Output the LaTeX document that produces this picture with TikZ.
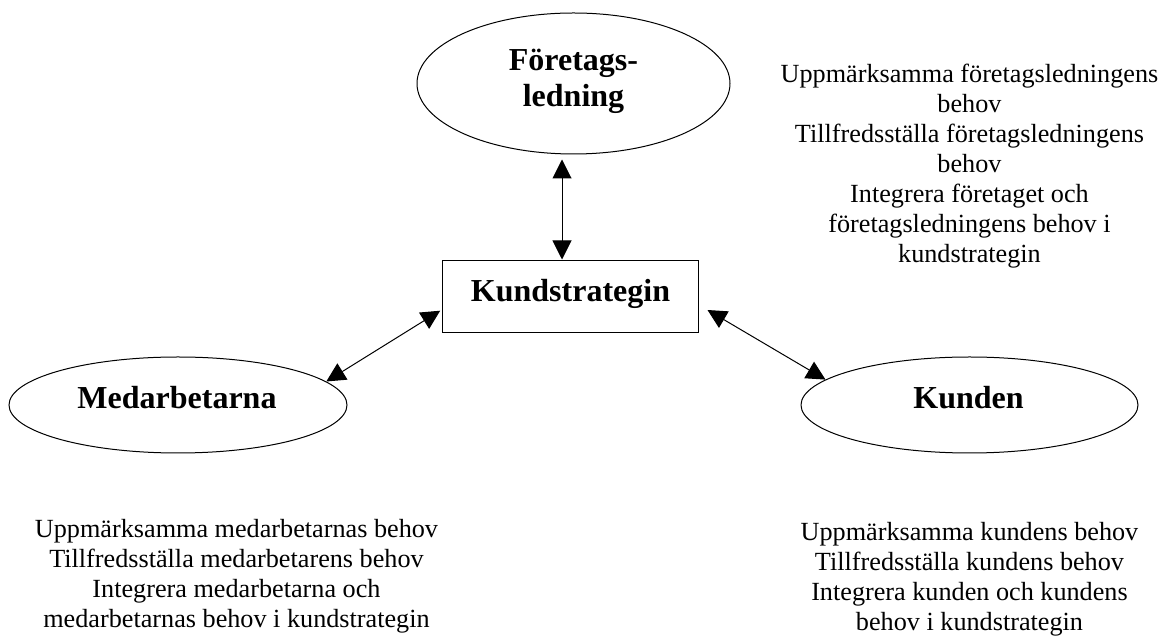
\documentclass[tikz,border=0pt]{standalone}
\usepackage{fontspec}
\setmainfont{Liberation Serif}
\usetikzlibrary{arrows.meta,shapes.geometric}
\begin{document}
\begin{tikzpicture}[x=1pt,y=1pt,
  oval/.style={draw,ellipse,line width=1pt,inner sep=0pt},
  stratbox/.style={draw,rectangle,line width=1pt,inner sep=0pt,minimum width=256pt,minimum height=72pt},
  heading/.style={font=\fontsize{32}{35.5}\selectfont\bfseries,inner sep=0pt,align=center},
  needs/.style={font=\fontsize{26.2}{30}\selectfont,inner sep=0pt,align=center},
  link/.style={line width=1pt,{Triangle[length=19pt,width=19pt]}-{Triangle[length=19pt,width=19pt]}}
]
\useasboundingbox (0,0) rectangle (1165,637);

% the four parties
\node[oval,minimum width=313pt,minimum height=141pt] (mgmt) at (573.5,553.5) {};
\node[heading,anchor=north] (mgmtlabel) at (573.5,588) {Företags-\\ledning};

\node[stratbox] (strat) at (570,340) {};
\node[heading,anchor=base] (stratlabel) at (570.5,335.3) {Kundstrategin};

\node[oval,minimum width=338pt,minimum height=96pt] (staff) at (178,232) {};
\node[heading,anchor=base] (stafflabel) at (177,228) {Medarbetarna};

\node[oval,minimum width=337pt,minimum height=96pt] (client) at (969.5,232) {};
\node[heading,anchor=base] (clientlabel) at (968.5,228) {Kunden};

% two-way links to the strategy
\draw[link] ([xshift=-11.5pt,yshift=-5pt]mgmt.south) -- ([xshift=-8pt,yshift=1pt]strat.north);
\draw[link] ([xshift=-1.3pt,yshift=-13.7pt]strat.west) -- (staff.9.8);
\draw[link] ([xshift=9pt,yshift=-13pt]strat.east) -- (client.170.2);

% needs of each party
\node[needs,anchor=north] (mgmtneeds) at (969.5,573) {Uppmärksamma företagsledningens\\behov\\Tillfredsställa företagsledningens\\behov\\Integrera företaget och\\företagsledningens behov i\\kundstrategin};
\node[needs,anchor=north] (staffneeds) at (236.5,118) {Uppmärksamma medarbetarnas behov\\Tillfredsställa medarbetarens behov\\Integrera medarbetarna och\\medarbetarnas behov i kundstrategin};
\node[needs,anchor=north] (clientneeds) at (969.5,115) {Uppmärksamma kundens behov\\Tillfredsställa kundens behov\\Integrera kunden och kundens\\behov i kundstrategin};
\end{tikzpicture}
\end{document}
